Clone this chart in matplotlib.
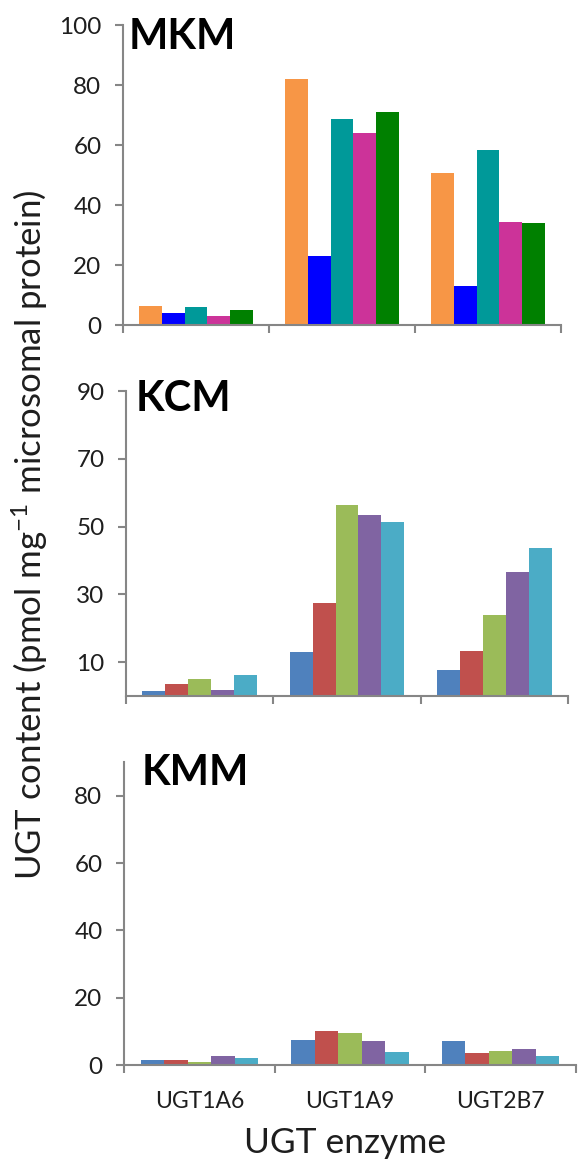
import numpy as np
import matplotlib.pyplot as plt

plt.rcParams['font.family'] = ['Lato', 'DejaVu Sans']
plt.rcParams['mathtext.fontset'] = 'custom'
plt.rcParams['mathtext.rm'] = 'Lato'
plt.rcParams['mathtext.it'] = 'Lato:italic'

# Data

categories = ['UGT1A6', 'UGT1A9', 'UGT2B7']

# rows = the five bars in each group, columns = categories
mkm = [[6.3, 81.9, 50.6],
       [4.1, 23.0, 13.1],
       [6.0, 68.6, 58.2],
       [3.0, 63.9, 34.3],
       [5.0, 71.0, 33.9]]
kcm = [[1.5, 13.0, 7.7],
       [3.5, 27.3, 13.4],
       [5.0, 56.5, 23.9],
       [1.7, 53.5, 36.7],
       [6.3, 51.2, 43.7]]
kmm = [[1.5, 7.5, 7.2],
       [1.5, 10.1, 3.5],
       [0.9, 9.4, 4.3],
       [2.7, 7.0, 4.7],
       [2.0, 4.0, 2.7]]

mkm_colors = ['#F79646', '#0000FF', '#009999', '#CC3399', '#008000']
k_colors = ['#4F81BD', '#C0504D', '#9BBB59', '#8064A2', '#4BACC6']

W, H = 578, 1163
gray = '#868686'
ink = '#1e1e1e'


def box(l, r, t, b):
    return [l / W, 1 - b / H, (r - l) / W, (b - t) / H]


fig = plt.figure(figsize=(W / 100, H / 100), dpi=100)
ax1 = fig.add_axes(box(123, 561, 25, 325))
ax2 = fig.add_axes(box(126, 568, 391, 696))
ax3 = fig.add_axes(box(124, 576, 762, 1065))

x = np.arange(len(categories))
bw = 0.78 / 5


def draw(ax, data, colors, title, tx, ty, ylim, yticks, labels=False):
    for j, (vals, col) in enumerate(zip(data, colors)):
        ax.bar(x + (j - 2) * bw, vals, bw, color=col, linewidth=0)
    ax.set_xlim(-0.5, 2.5)
    ax.set_ylim(*ylim)
    ax.set_yticks(yticks)
    ax.set_xticks([-0.5, 0.5, 1.5, 2.5])
    ax.set_xticklabels([])
    ax.set_xticks(x, minor=True)
    ax.set_xticklabels(categories if labels else [], minor=True)
    ax.tick_params(axis='x', which='major', direction='out', length=6, width=1.5, color=gray)
    ax.tick_params(axis='x', which='minor', length=0, pad=19, labelsize=16.5, labelcolor=ink)
    ax.tick_params(axis='y', direction='out', length=5.5, width=1.5, color=gray,
                   pad=10, labelsize=17.5, labelcolor=ink)
    for s in ['top', 'right']:
        ax.spines[s].set_visible(False)
    for s in ['left', 'bottom']:
        ax.spines[s].set_color(gray)
        ax.spines[s].set_linewidth(1.5)
    ax.text(tx, ty, title, transform=ax.transAxes, fontsize=30, fontweight='bold',
            va='baseline', ha='left', color='black')


draw(ax1, mkm, mkm_colors, 'MKM', 0.012, 0.92, (0, 100), [0, 20, 40, 60, 80, 100])
draw(ax2, kcm, k_colors, 'KCM', 0.022, 0.935, (0, 90), [10, 30, 50, 70, 90])
draw(ax3, kmm, k_colors, 'KMM', 0.038, 0.924, (0, 90), [0, 20, 40, 60, 80], labels=True)

fig.text(30 / W, 1 - 535 / H, 'UGT content (pmol mg$^{-1}$ microsomal protein)',
         rotation=90, ha='center', va='center', fontsize=25, color=ink)
fig.text(345 / W, 1 - 1153 / H, 'UGT enzyme', ha='center', va='baseline',
         fontsize=25.5, color=ink)

fig.savefig('out.png', dpi=100)
